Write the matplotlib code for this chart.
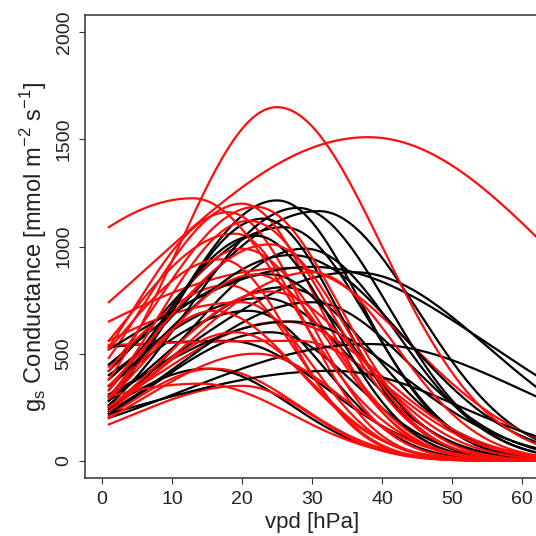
import numpy as np
import matplotlib
matplotlib.use("Agg")
import matplotlib.pyplot as plt

plt.rcParams['font.family'] = ['Liberation Sans', 'DejaVu Sans']
plt.rcParams['mathtext.fontset'] = 'custom'
plt.rcParams['mathtext.rm'] = 'Liberation Sans'

# per-curve response parameters:
# peak conductance, vpd at peak, conductance at vpd = 1, decline width
red_peak  = [1650, 1510, 1225, 1200, 1185, 1160, 1120, 1060, 1010, 990, 940, 900, 870,
             820, 790, 740, 700, 650, 600, 560, 500, 430, 360, 350, 880]
red_opt   = [25, 38, 13, 20, 22, 18, 21, 19, 24, 20, 17, 27, 22,
             18, 24, 20, 16, 26, 19, 28, 22, 16, 14, 20, 30]
red_start = [380, 740, 1090, 480, 420, 530, 330, 560, 350, 300, 520, 650, 290,
             440, 250, 560, 300, 260, 230, 540, 200, 210, 300, 170, 250]
red_fall  = [15, 28, 14, 11, 12, 11, 12, 10, 11, 12, 10, 17, 11,
             10, 13, 10, 12, 14, 11, 13, 12, 12, 13, 10, 12]

blk_peak  = [1215, 1180, 1165, 1130, 1090, 1050, 990, 905, 880, 870, 810, 740, 700,
             650, 560, 545, 430, 420, 600, 960, 760]
blk_opt   = [25, 28, 31, 23, 26, 22, 29, 30, 36, 24, 26, 30, 21,
             27, 18, 38, 15, 33, 24, 27, 23]
blk_start = [300, 260, 380, 280, 420, 330, 240, 520, 300, 450, 280, 230, 350,
             310, 530, 200, 250, 220, 220, 350, 400]
blk_fall  = [12, 13, 14, 11, 12, 11, 13, 25, 19, 12, 13, 14, 11,
             16, 14, 22, 12, 18, 12, 16, 13]


def response(vpd, peak, opt, start, fall):
    rise = (opt - 1) / np.sqrt(2 * np.log(peak / start))
    w = np.where(vpd < opt, rise, fall)
    return peak * np.exp(-0.5 * ((vpd - opt) / w) ** 2)


fig = plt.figure(figsize=(5.36, 5.36), dpi=100)
ax = fig.add_axes([85 / 536, 58 / 536, 454 / 536, 463 / 536])

vpd = np.linspace(1, 63, 400)
curves = [(p, o, s, f, 'black') for p, o, s, f in zip(blk_peak, blk_opt, blk_start, blk_fall)]
curves += [(p, o, s, f, '#ff0d0d') for p, o, s, f in zip(red_peak, red_opt, red_start, red_fall)]
order = np.argsort([i % 2 + 0.01 * i for i in range(len(curves))])
for i in order:
    p, o, s, f, c = curves[i]
    ax.plot(vpd, response(vpd, p, o, s, f), color=c, lw=1.6)

ax.set_xlim(-2.4, 62.4)
ax.set_ylim(-80, 2080)
ax.set_xticks([0, 10, 20, 30, 40, 50, 60])
ax.set_yticks([0, 500, 1000, 1500, 2000])
for lab in ax.get_yticklabels():
    lab.set_rotation(90)
    lab.set_va('center')
ax.tick_params(direction='out', length=4, width=0.8, color='#333333',
               labelsize=14, labelcolor='#222222', pad=5)
for sp in ax.spines.values():
    sp.set_color('#333333')
    sp.set_linewidth(1.1)

ax.set_xlabel('vpd [hPa]', fontsize=16, color='#222222', labelpad=3)
ax.set_ylabel(r'g$_\mathrm{s}$ Conductance [mmol m$^{-2}$ s$^{-1}$]', fontsize=17,
              color='#222222', labelpad=5)

fig.savefig('out.png', dpi=100)
